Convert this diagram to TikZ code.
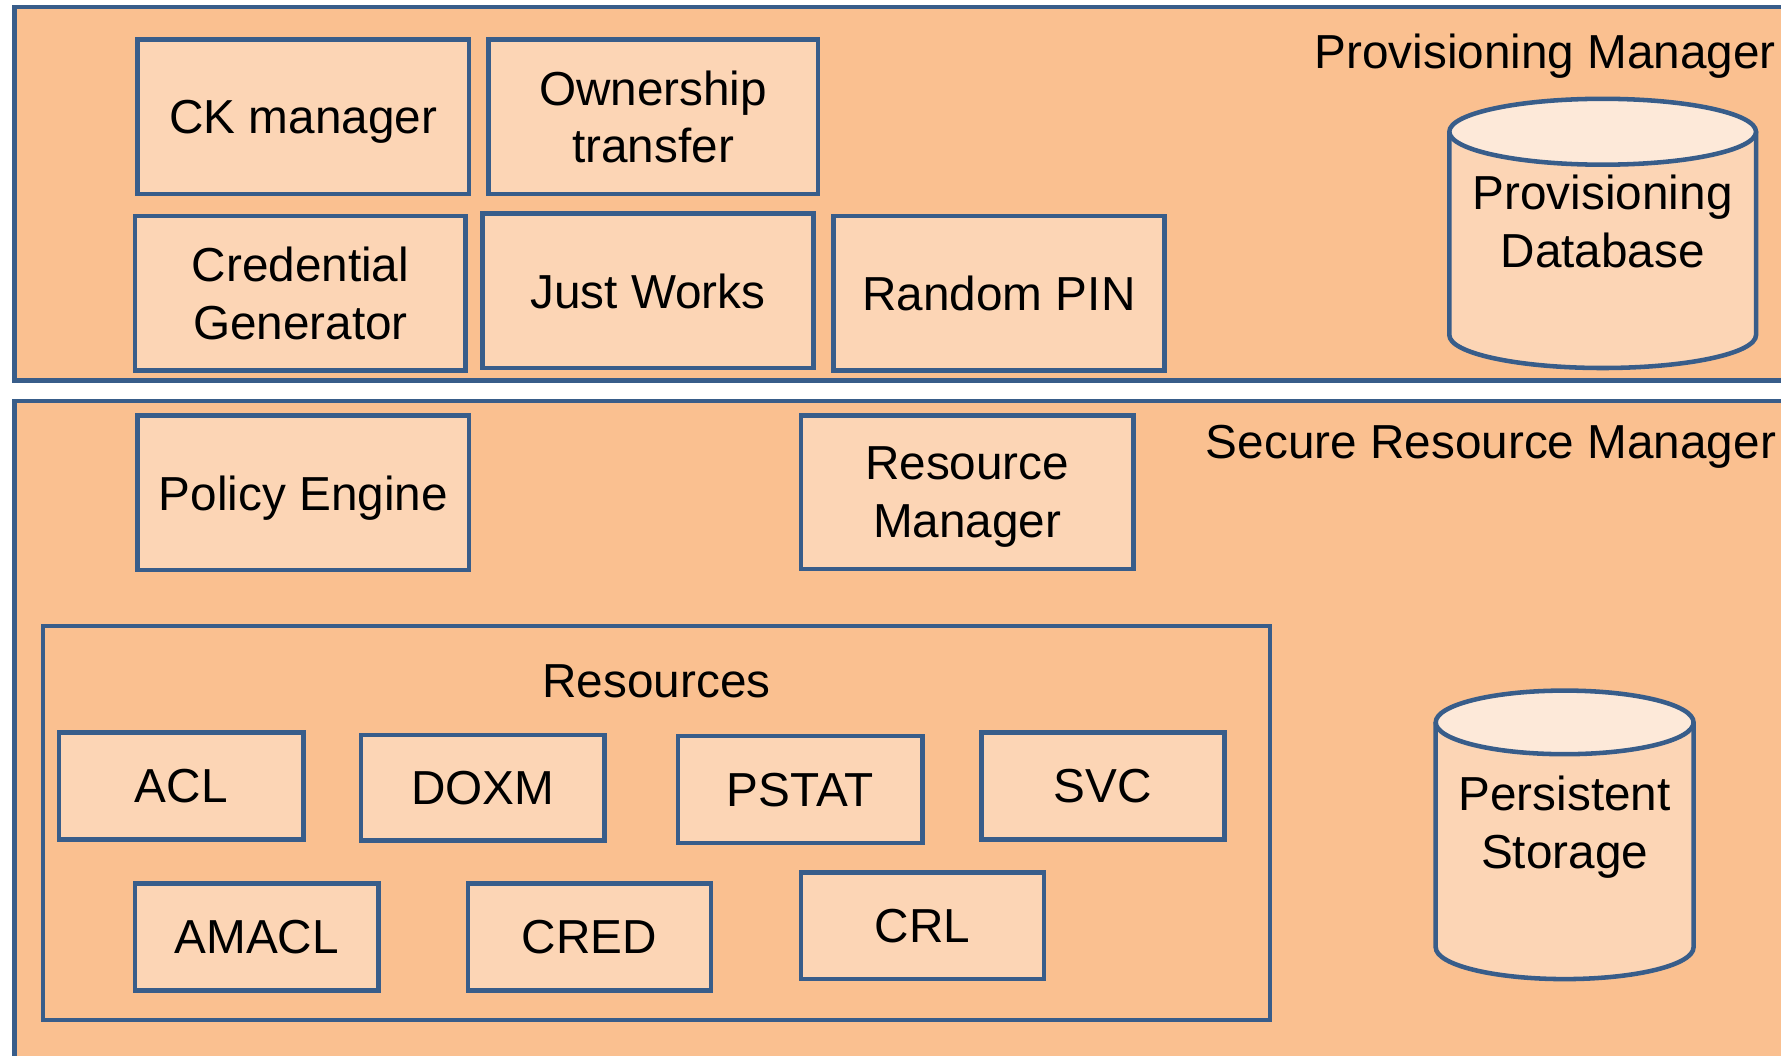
\documentclass[tikz,border=0pt]{standalone}
\usepackage{fontspec}
\setmainfont{Liberation Sans}
\definecolor{panelfill}{HTML}{FAC090}
\definecolor{boxfill}{HTML}{FCD5B5}
\definecolor{topfill}{HTML}{FDE9D9}
\definecolor{edge}{HTML}{385D8A}

\begin{document}
\begin{tikzpicture}[x=0.5pt,y=-0.5pt,
  every node/.style={font=\fontsize{21}{25.5}\selectfont},
  panel/.style={draw=edge, fill=panelfill, line width=2pt},
  box/.style={draw=edge, fill=boxfill, line width=2pt, inner sep=0pt, align=center},
  bigbox/.style={box, minimum width=146pt, minimum height=68pt},
  smallbox/.style={box, minimum width=107pt, minimum height=47pt},
  single/.style={text depth=0pt},
  cyl/.style={draw=edge, line width=2pt},
  lbl/.style={inner sep=0pt, align=center}]
\useasboundingbox (0,0) rectangle (1568,929);
\clip (0,0) rectangle (1568,929);
\fill[white] (0,0) rectangle (1568,929);

% the two manager layers, running off the right (and bottom) edge
\draw[panel] (13,6) rectangle (1620,335);
\draw[panel] (13,353) rectangle (1620,980);

% provisioning manager components
\node[bigbox, single] (ck) at (267,103) {CK manager};
\node[bigbox, minimum width=145pt] (own) at (575,103) {Ownership\\transfer};
\node[bigbox, minimum width=145.5pt] (credgen) at (264.5,258) {Credential\\Generator};
\node[bigbox, single, minimum width=145.5pt] (jw) at (570.5,256) {Just Works};
\node[bigbox, single, minimum width=145.5pt] (pin) at (879.5,258) {Random PIN};
\node[lbl, anchor=base east] (pmlabel) at (1564,60) {Provisioning Manager};

% provisioning database cylinder
\fill[boxfill] (1276,116) -- (1276,295) arc[start angle=180, end angle=0, x radius=135, y radius=29] -- (1546,116) -- cycle;
\draw[cyl] (1276,116) -- (1276,295) arc[start angle=180, end angle=0, x radius=135, y radius=29] -- (1546,116);
\draw[cyl, fill=topfill] (1411,116) ellipse[x radius=135, y radius=29];
\node[lbl] (pdb) at (1411,195) {Provisioning\\Database};

% secure resource manager components
\node[bigbox, single] (pe) at (267,434) {Policy Engine};
\node[bigbox, minimum width=146.5pt, minimum height=67.5pt] (rm) at (851.5,433.5) {Resource\\\raisebox{0pt}[\height][0pt]{Manager}};
\node[lbl, anchor=base east] (srmlabel) at (1564,404) {Secure Resource Manager};

% resources group
\node[panel, inner sep=0pt, minimum width=540pt, minimum height=173.5pt] (resframe) at (578,724.5) {};
\node[lbl, single] (reslabel) at (578,600) {Resources};
\node[smallbox, single, minimum width=107.5pt] (acl) at (159.5,692) {ACL};
\node[smallbox, single, minimum height=46.5pt] (doxm) at (425,693.5) {DOXM};
\node[smallbox, single, minimum width=107.5pt] (pstat) at (704.5,695) {PSTAT};
\node[smallbox, single] (svc) at (971,692) {SVC};
\node[smallbox, single] (amacl) at (226,825) {AMACL};
\node[smallbox, single] (cred) at (519,825) {CRED};
\node[smallbox, single] (crl) at (812,815) {CRL};

% persistent storage cylinder
\fill[boxfill] (1264,636) -- (1264,834) arc[start angle=180, end angle=0, x radius=113.5, y radius=28] -- (1491,636) -- cycle;
\draw[cyl] (1264,636) -- (1264,834) arc[start angle=180, end angle=0, x radius=113.5, y radius=28] -- (1491,636);
\draw[cyl, fill=topfill] (1377.5,636) ellipse[x radius=113.5, y radius=28];
\node[lbl] (ps) at (1377.5,728) {Persistent\\Storage};
\end{tikzpicture}
\end{document}
